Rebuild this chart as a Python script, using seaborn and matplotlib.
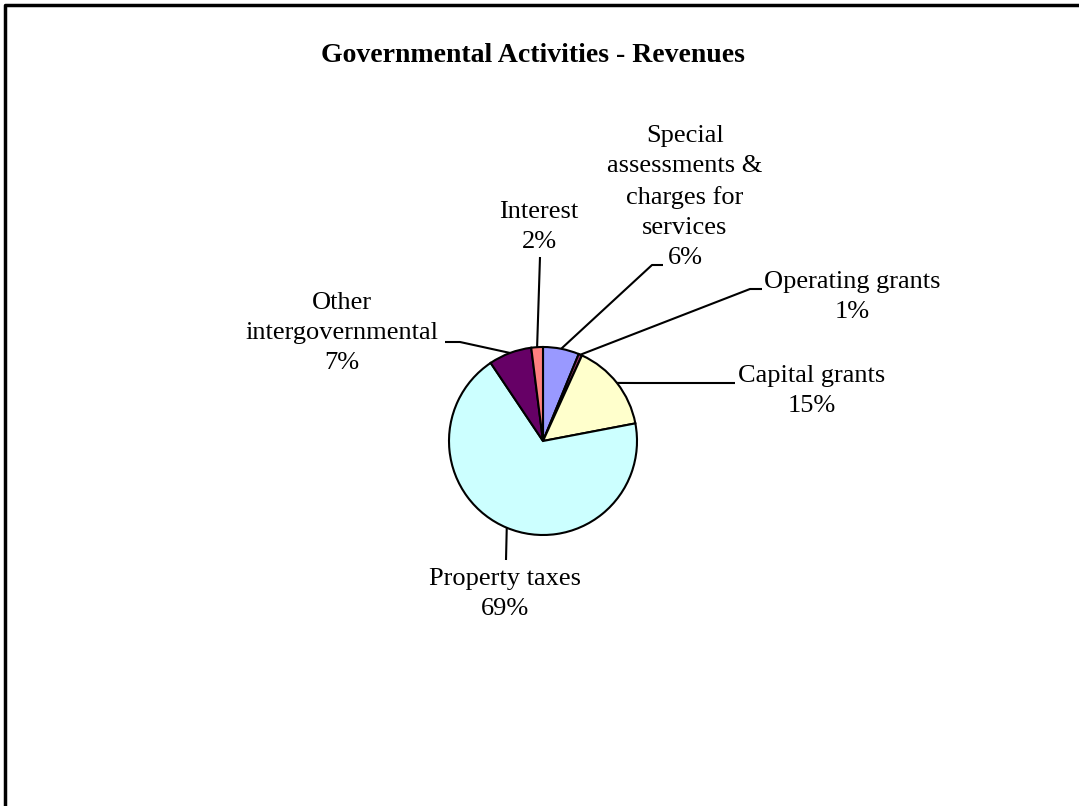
import numpy as np
import matplotlib.pyplot as plt
import seaborn as sns

sources = ['Special\nassessments &\ncharges for\nservices', 'Operating grants', 'Capital grants',
           'Property taxes', 'Other\nintergovernmental', 'Interest']
shares = [6.2, 0.6, 15.2, 68.6, 7.4, 2.0]
colors = ['#9999FF', '#993366', '#FFFFCC', '#CCFFFF', '#660066', '#FF8080']

sns.set_theme(style='white')
plt.rcParams['font.family'] = ['Liberation Serif', 'DejaVu Serif']

W, H = 1079, 806
fig = plt.figure(figsize=(W / 100, H / 100), dpi=100)
ax = fig.add_axes([0, 0, 1, 1])

# pie in pixel space (y flipped, so counterclock=True draws clockwise on screen)
cx, cy, r = 543, 441, 94
wedges, _ = ax.pie(shares, colors=colors, startangle=-90, counterclock=True,
                   center=(cx, cy), radius=r, frame=True,
                   wedgeprops=dict(edgecolor='black', linewidth=1.5))
ax.set_xlim(0, W)
ax.set_ylim(H, 0)
ax.set_aspect('equal')
ax.axis('off')

# label layout: (text x, text y, elbow point, line end)
layout = [
    (685, 197, (652, 265), (663, 265)),
    (852, 297, (750, 289), (762, 289)),
    (812, 391, (635, 383), (735, 383)),
    (505, 594, (506, 560), (506, 560)),
    (342, 333, (460, 342), (445, 342)),
    (539, 227, (540, 257), (540, 257)),
]

total = sum(shares)
cum = np.cumsum([0] + shares)
for i, (name, val) in enumerate(zip(sources, shares)):
    mid = (cum[i] + val / 2) / total * 2 * np.pi
    ex, ey = cx + r * np.sin(mid), cy - r * np.cos(mid)
    tx, ty, elbow, end = layout[i]
    ax.plot([ex, elbow[0], end[0]], [ey, elbow[1], end[1]], color='black', lw=1.5,
            solid_capstyle='butt')
    ax.text(tx, ty, f'{name}\n{round(val / total * 100):.0f}%', ha='center', va='center',
            fontsize=19, linespacing=1.47, color='black')

ax.text(533, 55, 'Governmental Activities - Revenues', ha='center', va='center',
        fontsize=20, fontweight='bold', color='black')

# chart-area border (top and left visible)
ax.plot([5, 5, W], [H, 5, 5], color='black', lw=2.5)

fig.savefig('out.png', dpi=100)
